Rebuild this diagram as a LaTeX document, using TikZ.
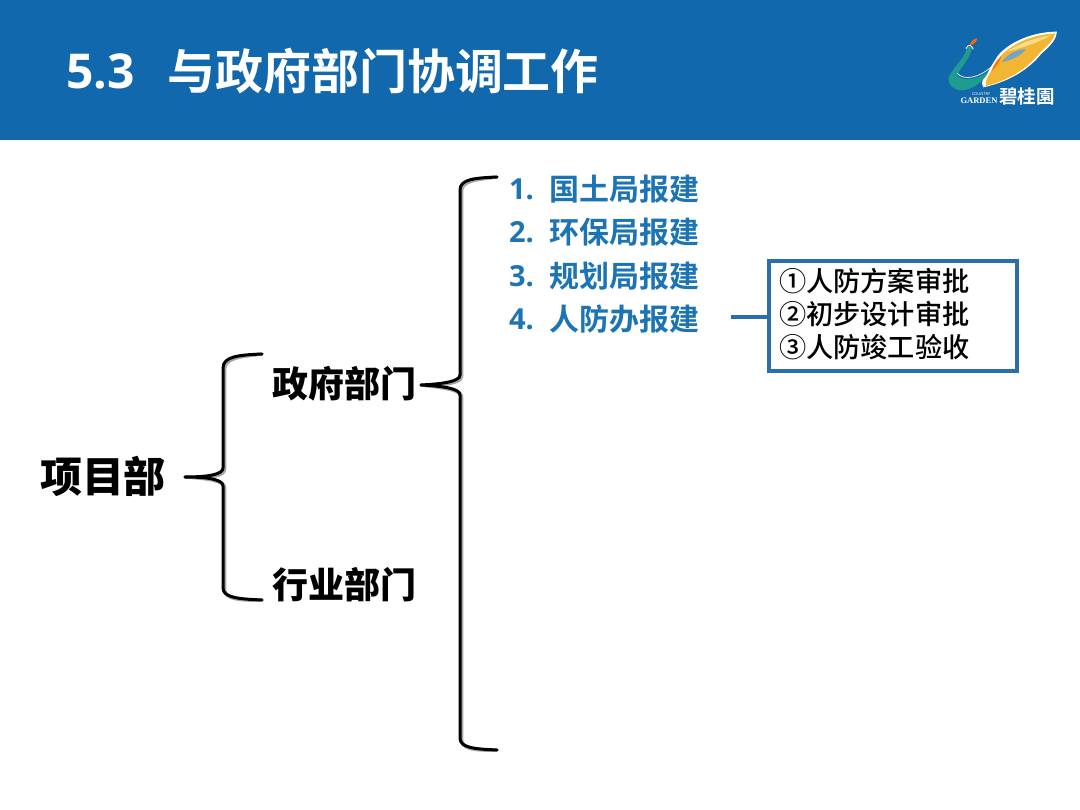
\documentclass[tikz,border=0pt]{standalone}
\usepackage{fontspec}
\usetikzlibrary{calc}
\setmainfont{Open Sans}
\newfontfamily\cjk{Noto Sans CJK SC Medium}
\newfontfamily\cjkb{Noto Sans CJK SC Bold}
\newfontfamily\cjkk{Noto Sans CJK SC Black}
\newfontfamily\latb{Open Sans Bold}
\newfontfamily\logoserif{Liberation Serif Bold}
\definecolor{hdr}{HTML}{1268AC}
\definecolor{lst}{HTML}{1C74B4}
\definecolor{bx}{HTML}{2A6FA8}
\definecolor{gold}{HTML}{F2B632}
\definecolor{lgold}{HTML}{F8DD8A}
\definecolor{teal}{HTML}{1F9C90}
\begin{document}
\begin{tikzpicture}[x=1pt,y=-1pt,
  lbl/.style={inner sep=0pt,outer sep=0pt,anchor=west},
  title/.style={lbl,text=white,font=\cjkb\fontsize{48}{48}\selectfont},
  titlenum/.style={lbl,text=white,font=\latb\fontsize{48}{48}\selectfont},
  head/.style={lbl,text=black,font=\cjkk\fontsize{36}{36}\selectfont},
  item/.style={lbl,text=lst,font=\cjkb\fontsize{30}{30}\selectfont},
  itemnum/.style={lbl,text=lst,font=\latb\fontsize{29}{29}\selectfont},
  sub/.style={lbl,text=black,font=\cjk\fontsize{27.2}{33}\selectfont,align=left},
  brace/.style={draw=black,line width=3pt,line cap=round,line join=round},
  braceshadow/.style={draw=black!35,line width=3.5pt,line cap=round,line join=round},
  link/.style={draw=bx,line width=3.5pt},
  frame/.style={draw=bx,line width=3.5pt,fill=white,inner sep=0pt,outer sep=0pt,minimum width=248pt,minimum height=110pt}]
\useasboundingbox (0,0) rectangle (1080,810);
\fill[hdr] (0,0) rectangle (1080,140);

% title
\node[titlenum] (tnum) at (66,71) {5.3};
\node[title] (ttl) at (167,71) {与政府部门协调工作};

% logo
\begin{scope}[shift={(920,10)},x=0.3333pt,y=-0.3333pt]
  % crescent: white rim, gold body, pale streak, blue slit
  \fill[white] (190,232) .. controls (270,215) and (330,175) .. (365,130)
     .. controls (395,105) and (410,85) .. (411,65)
     .. controls (340,65) and (270,95) .. (235,135)
     .. controls (222,155) and (212,170) .. (205,185)
     .. controls (190,205) and (180,215) .. (190,232) -- cycle;
  \fill[gold] (198,228) .. controls (270,210) and (325,172) .. (360,128)
     .. controls (385,105) and (402,88) .. (405,71)
     .. controls (340,72) and (278,100) .. (242,138)
     .. controls (230,155) and (220,172) .. (212,186)
     .. controls (200,205) and (195,215) .. (198,228) -- cycle;
  \fill[lgold] (262,125) .. controls (295,100) and (345,85) .. (395,75)
     .. controls (350,100) and (300,115) .. (262,125) -- cycle;
  \fill[orange!90!red] (214,184) .. controls (220,165) and (232,148) .. (244,138)
     .. controls (240,155) and (228,172) .. (214,184) -- cycle;
  \fill[hdr!60!white] (245,156) .. controls (262,132) and (295,116) .. (318,118)
     .. controls (305,134) and (275,152) .. (245,156) -- cycle;
  % swan
  \fill[teal] (85,205) .. controls (100,170) and (130,150) .. (140,118)
     .. controls (143,110) and (150,105) .. (155,108)
     .. controls (162,125) and (130,165) .. (110,195)
     .. controls (125,215) and (170,210) .. (205,185)
     .. controls (195,210) and (160,240) .. (125,241)
     .. controls (100,240) and (85,225) .. (85,205) -- cycle;
  \draw[white,line width=0.7pt] (112,190) .. controls (130,212) and (175,205) .. (215,170);
  \draw[white,line width=0.8pt] (138,116) .. controls (145,100) and (155,105) .. (160,118);
  \fill[orange!80!red] (148,106) .. controls (155,90) and (165,85) .. (172,85)
     .. controls (170,95) and (162,105) .. (148,106) -- cycle;
\end{scope}
\node[lbl,text=white,font=\cjkb\fontsize{18.5}{18.5}\selectfont] (logocn) at (999,96) {碧\hspace{0.4pt}桂\hspace{0.4pt}園};
\node[inner sep=0pt,anchor=center,text=white,font=\logoserif\fontsize{8.5}{8.5}\selectfont] (logoen) at (979,101) {GARDEN};
\node[inner sep=0pt,anchor=center,text=white,font=\fontsize{4}{4}\selectfont] (logoen2) at (981,94) {COUNTRY};

% main labels
\node[lbl,text=black,font=\cjkk\fontsize{42}{42}\selectfont] (pm) at (40,476) {项目部};
\node[head] (gov) at (272,384) {政府部门};
\node[head] (ind) at (272,585) {行业部门};

% list
\node[itemnum] (n1) at (509,189) {1.};
\node[item] (i1) at (549,189) {国土局报建};
\node[itemnum] (n2) at (509,232) {2.};
\node[item] (i2) at (549,232) {环保局报建};
\node[itemnum] (n3) at (509,276) {3.};
\node[item] (i3) at (549,276) {规划局报建};
\node[itemnum] (n4) at (509,319) {4.};
\node[item] (i4) at (549,319) {人防办报建};

% box
\node[frame] (box) at (893,316) {};
\node[sub] (boxt) at (779,314) {①人防方案审批\\②初步设计审批\\③人防竣工验收};

% connector
\coordinate (c4) at ($(i4.east)+(32,-2)$);
\draw[link] (c4) -- (c4 -| box.west);

% braces
\coordinate (t1) at (262,354);
\coordinate (b1) at (262,600);
\coordinate (p1) at (185,477);
\coordinate (t2) at (497,177);
\coordinate (b2) at (497,750);
\coordinate (p2) at (421,385);
\foreach \sty/\dx in {braceshadow/1.5,brace/0}{
\begin{scope}[shift={(\dx,\dx)}]
\draw[\sty] (t1) .. controls (240,355) and (223,356) .. (223,368)
  -- (223,468) .. controls (223,474) and (210,477) .. (p1)
  .. controls (210,477) and (223,480) .. (223,486)
  -- (223,588) .. controls (223,598) and (240,599) .. (b1);
\draw[\sty] (t2) .. controls (475,178) and (460,179) .. (460,190)
  -- (460,375) .. controls (460,382) and (440,384) .. (p2)
  .. controls (440,386) and (460,388) .. (460,395)
  -- (460,738) .. controls (460,748) and (475,749) .. (b2);
\end{scope}}
\end{tikzpicture}
\end{document}
